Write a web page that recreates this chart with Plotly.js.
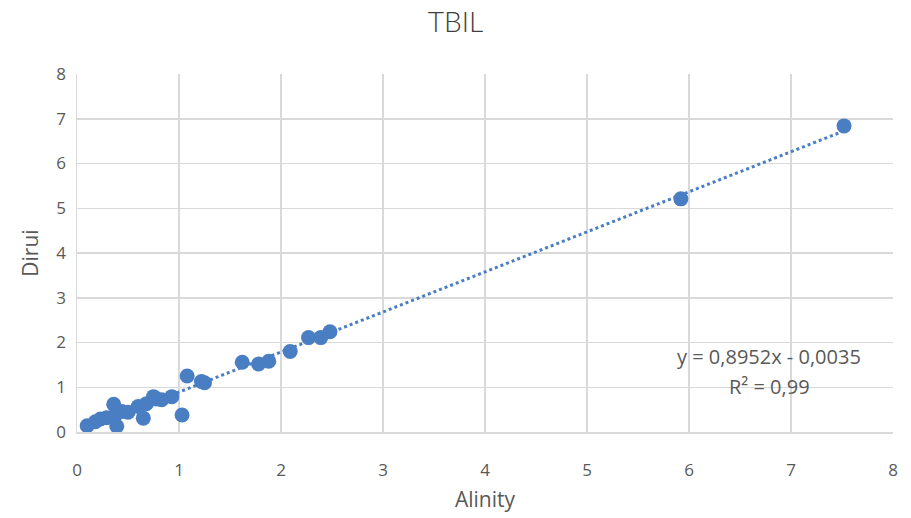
<!DOCTYPE html>
<html>
<head>
<meta charset="utf-8">
<script src="https://cdn.plot.ly/plotly-3.0.1.min.js"></script>
<style>html,body{margin:0;padding:0;background:#fff;}#chart{width:911px;height:518px;}</style>
</head>
<body>
<div id="chart"></div>
<script>
var alinity = [0.10, 0.18, 0.23, 0.29, 0.36, 0.39, 0.37, 0.44, 0.50, 0.60, 0.65, 0.68, 0.75, 0.78, 0.83, 0.93, 1.03, 1.08, 1.22, 1.25, 1.62, 1.78, 1.88, 2.09, 2.27, 2.39, 2.48, 5.92, 7.52];
var dirui   = [0.14, 0.23, 0.29, 0.32, 0.62, 0.13, 0.36, 0.46, 0.44, 0.57, 0.31, 0.63, 0.79, 0.74, 0.72, 0.79, 0.38, 1.25, 1.13, 1.10, 1.56, 1.52, 1.58, 1.80, 2.11, 2.11, 2.24, 5.21, 6.84];
var slope = 0.8952, intercept = -0.0035;
var trendX = [Math.min.apply(null, alinity), Math.max.apply(null, alinity)];
var trendY = trendX.map(function(x){ return slope * x + intercept; });
var xTicks = [0,1,2,3,4,5,6,7,8];
var yTicks = [0,1,2,3,4,5,6,7,8];
var col = '#4a7ec2';
var fam = 'Open Sans, Noto Sans, sans-serif';
var tickFont = {family: fam, size: 17, color: '#595959'};
var data = [
  {x: trendX, y: trendY, mode: 'lines', line: {color: col, width: 3, dash: 'dot'}, hoverinfo: 'skip', showlegend: false},
  {x: alinity, y: dirui, mode: 'markers', marker: {color: col, size: 15}, showlegend: false}
];
var ax = (769-77)/(893-77);
var layout = {
  width: 911, height: 518,
  margin: {l: 77, r: 18, t: 74, b: 86},
  paper_bgcolor: '#fff', plot_bgcolor: '#fff',
  title: {text: 'TBIL', x: 0.5, xanchor: 'center', y: 1 - 22/518, yanchor: 'middle', font: {family: 'Lato, sans-serif', size: 28, weight: 300, color: '#404040'}},
  xaxis: {range: [0, 8], tickvals: xTicks, ticktext: xTicks.map(String), showgrid: true, gridcolor: '#d9d9d9', gridwidth: 1.5,
    zeroline: false, showline: true, linecolor: '#d9d9d9', linewidth: 1.5, ticks: 'outside', ticklen: 22, tickcolor: 'rgba(0,0,0,0)', tickfont: tickFont,
    title: {text: 'Alinity', font: {family: fam, size: 21, color: '#595959'}, standoff: 12}},
  yaxis: {range: [0, 8], tickvals: yTicks, ticktext: yTicks.map(String), showgrid: true, gridcolor: '#d9d9d9', gridwidth: 1.5,
    zeroline: false, showline: true, linecolor: '#d9d9d9', linewidth: 1.5, ticks: 'outside', ticklen: 6, tickcolor: 'rgba(0,0,0,0)', tickfont: tickFont,
    title: {text: 'Dirui', font: {family: fam, size: 21, color: '#595959'}, standoff: 12}},
  annotations: [
    {xref: 'paper', yref: 'paper', x: ax, xanchor: 'center', y: (432-356)/(432-74), yanchor: 'middle', text: 'y = 0,8952x - 0,0035', showarrow: false,
     font: {family: fam, size: 20, color: '#595959'}},
    {xref: 'paper', yref: 'paper', x: ax, xanchor: 'center', y: (432-386)/(432-74), yanchor: 'middle', text: 'R² = 0,99', showarrow: false,
     font: {family: fam, size: 20, color: '#595959'}}
  ]
};
Plotly.newPlot('chart', data, layout, {displayModeBar: false, staticPlot: true});
</script>
</body>
</html>
